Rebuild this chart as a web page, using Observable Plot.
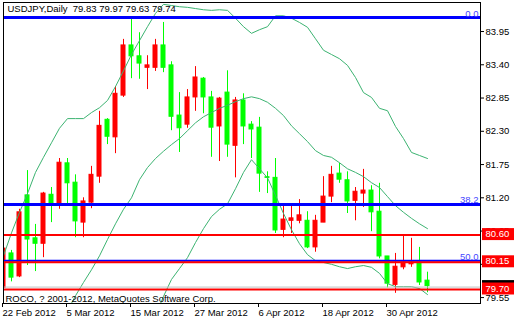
<!DOCTYPE html>
<html>
<head>
<meta charset="utf-8">
<script src="https://cdn.jsdelivr.net/npm/d3@7"></script>
<script src="https://cdn.jsdelivr.net/npm/@observablehq/plot@0.6"></script>
<style>
html, body { margin: 0; padding: 0; background: #ffffff; }
#chart svg { display: block; overflow: visible; }
</style>
</head>
<body>
<div id="chart"></div>
<script>
// ---- data ----
const symbol = "USDJPY,Daily";
const copyright = "ROCO, ? 2001-2012, MetaQuotes Software Corp.";

const dates = ["2012-02-22","2012-02-23","2012-02-24","2012-02-27","2012-02-28","2012-02-29","2012-03-01","2012-03-02","2012-03-05","2012-03-06","2012-03-07","2012-03-08","2012-03-09","2012-03-12","2012-03-13","2012-03-14","2012-03-15","2012-03-16","2012-03-19","2012-03-20","2012-03-21","2012-03-22","2012-03-23","2012-03-26","2012-03-27","2012-03-28","2012-03-29","2012-03-30","2012-04-02","2012-04-03","2012-04-04","2012-04-05","2012-04-06","2012-04-09","2012-04-10","2012-04-11","2012-04-12","2012-04-13","2012-04-16","2012-04-17","2012-04-18","2012-04-19","2012-04-20","2012-04-23","2012-04-24","2012-04-25","2012-04-26","2012-04-27","2012-04-30","2012-05-01","2012-05-02","2012-05-03","2012-05-04","2012-05-07"];

const open = [79.71,80.28,79.90,81.24,80.53,80.44,81.25,81.10,81.77,81.45,
  80.79,81.12,81.55,82.49,82.20,82.89,83.72,83.54,83.35,83.35,
  83.72,83.39,82.56,82.41,82.86,83.17,82.86,82.38,82.94,82.06,
  82.81,82.41,82.36,81.54,81.53,80.67,80.82,80.82,80.82,80.38,
  80.79,81.22,81.60,81.49,81.15,81.27,81.32,80.97,80.23,79.76,
  80.05,80.10,80.13,79.83];
const high = [80.38,80.33,81.01,81.65,80.76,81.29,81.37,81.85,81.85,81.58,
  81.20,81.72,82.63,82.51,83.04,83.82,84.18,83.93,83.55,83.82,
  84.10,83.45,82.94,82.99,83.37,83.19,82.96,82.86,83.30,82.86,
  82.92,82.46,82.53,81.63,81.85,81.09,81.07,81.17,80.97,80.91,
  81.55,81.72,81.77,81.63,81.37,81.67,81.40,81.44,80.23,80.28,
  80.56,80.53,80.38,79.97];
const low = [79.60,79.81,79.88,80.08,79.98,80.21,80.79,81.01,81.10,80.54,
  80.54,81.02,81.44,82.08,81.93,82.86,83.17,83.16,82.99,83.29,
  83.27,82.31,81.95,82.35,82.63,82.59,81.87,81.80,81.87,81.53,
  82.08,81.85,81.29,81.27,80.61,80.54,80.61,80.77,80.36,80.30,
  80.79,81.12,81.44,80.94,80.82,81.04,80.64,80.19,79.71,79.62,
  80.01,80.05,79.75,79.63];
const close = [80.36,79.88,80.96,80.51,80.44,81.27,81.10,81.78,81.44,80.81,
  81.14,81.58,82.39,82.21,82.92,83.72,83.54,83.42,83.39,83.72,
  83.35,82.54,82.35,82.86,83.19,82.86,82.36,82.84,82.08,82.81,
  82.38,82.33,81.60,81.53,80.66,80.84,80.86,80.91,80.38,80.82,
  81.22,81.58,81.50,81.14,81.30,81.32,80.96,80.23,79.78,80.06,
  80.13,80.13,79.80,79.74];

const bbUpper = [80.24,80.62,80.96,81.27,81.62,81.87,82.11,82.35,82.51,82.51,
  82.51,82.61,82.69,82.81,83.04,83.30,83.57,83.80,84.03,84.25,
  84.40,84.38,84.36,84.35,84.33,84.31,84.30,84.31,84.30,84.17,
  84.03,83.92,83.98,84.03,84.21,84.21,84.17,84.10,84.02,83.83,
  83.64,83.57,83.50,83.39,83.19,82.94,82.86,82.68,82.64,82.38,
  82.18,81.95,81.90,81.85];
const bbMiddle = [null,null,null,null,null,null,null,null,
  79.33,79.58,79.80,80.01,80.24,80.51,80.77,81.01,81.20,81.50,
  81.70,81.85,81.97,82.08,82.18,82.31,82.44,82.54,82.61,82.68,
  82.73,82.79,82.84,82.87,82.84,82.78,82.68,82.56,82.39,82.26,
  82.13,81.98,81.90,81.87,81.78,81.68,81.62,81.55,81.45,81.37,
  81.22,81.07,80.96,80.86,80.77,80.69];
const bbLower = [null,null,null,null,null,null,null,null,null,null,
  null,null,null,null,null,null,null,null,null,
  79.25,79.57,79.85,80.03,80.21,80.46,80.69,80.89,81.01,81.10,
  81.35,81.62,81.83,81.68,81.53,81.24,80.94,80.67,80.44,80.26,
  80.16,80.13,80.10,80.06,80.03,80.06,80.08,80.05,79.95,79.78,
  79.73,79.73,79.73,79.70,79.60];

const xTickIndex = [0, 8, 16, 24, 32, 40, 48];
const yTicks = [83.95, 83.40, 82.85, 82.30, 81.75, 81.20, 80.65, 80.10, 79.55];
const fibLevels = [84.18, 81.09, 80.16];
const fibLabels = ["0.0", "38.2", "50.0"];
const srLevels = [80.60, 80.15, 79.70];
const bidPrice = 79.74;

// ---- build ----
const bars = dates.map((d, i) => ({
  i, date: new Date(d),
  o: open[i], h: high[i], l: low[i], c: close[i],
  up: bbUpper[i], mid: bbMiddle[i], lo: bbLower[i]
}));
const UP = "#ff0000", DOWN = "#00ff00", BLUE = "#0000ff", BAND = "#3cb371";
const candleColor = d => d.c >= d.o ? UP : DOWN;
const fmtDate = d3.utcFormat("%-d %b %Y");
const fmtPrice = d3.format(".2f");
const last = bars[bars.length - 1];
const title = symbol + "\u00a0\u00a0" + [last.o, last.h, last.l, last.c].map(fmtPrice).join(" ");

const chart = Plot.plot({
  width: 520,
  height: 320,
  marginTop: 2,
  marginBottom: 17,
  marginLeft: 3,
  marginRight: 40,
  style: "font-family: 'Liberation Sans', Arial, sans-serif; font-size: 9.5px; color: #000; background: #fff; overflow: visible;",
  x: {domain: [0, 59.625], axis: null, label: null},
  y: {domain: [79.452, 84.43], axis: null, label: null},
  marks: [
    // candles
    Plot.ruleX(bars, {x: "i", y1: "l", y2: "h", stroke: candleColor, strokeWidth: 1, clip: true}),
    Plot.rect(bars, {
      x1: d => d.i - 0.25, x2: d => d.i + 0.25,
      y1: d => Math.min(d.o, d.c), y2: d => Math.max(d.o, d.c),
      fill: candleColor, stroke: candleColor, strokeWidth: 1, clip: true
    }),
    // Bollinger bands
    Plot.line(bars, {x: "i", y: "up", stroke: BAND, strokeWidth: 1, clip: true}),
    Plot.line(bars.filter(d => d.mid != null), {x: "i", y: "mid", stroke: BAND, strokeWidth: 1, clip: true}),
    Plot.line(bars.filter(d => d.lo != null), {x: "i", y: "lo", stroke: BAND, strokeWidth: 1, clip: true}),
    // bid line
    Plot.ruleY([bidPrice], {stroke: "#c0c0c0", strokeWidth: 1, dy: 1}),
    // fibonacci levels
    Plot.ruleY(fibLevels, {stroke: BLUE, strokeWidth: (d, i) => i < 2 ? 3 : 2}),
    Plot.text(fibLevels, {y: d => d, text: (d, i) => fibLabels[i], frameAnchor: "right", textAnchor: "end", lineAnchor: "bottom", dx: -2, dy: -1, fill: "#4646ff"}),
    // support / resistance lines
    Plot.ruleY(srLevels, {stroke: UP, strokeWidth: 2, dy: 1}),
    // texts
    Plot.text([title], {frameAnchor: "top-left", textAnchor: "start", lineAnchor: "top", dx: 4, dy: 3, fill: "#000"}),
    Plot.text([copyright], {frameAnchor: "bottom-left", textAnchor: "start", lineAnchor: "bottom", dx: 2, dy: -2, fill: "#000"}),
    // frame and axes
    Plot.frame({stroke: "#000"}),
    Plot.axisY(yTicks, {anchor: "right", label: null, tickSize: 3, tickPadding: 2, tickFormat: fmtPrice, stroke: "#000", fill: "#000"}),
    Plot.axisX(xTickIndex, {anchor: "bottom", label: null, tickSize: 4, tickPadding: 1.5, textAnchor: "start", dx: -1, tickFormat: i => fmtDate(bars[i].date), stroke: "#000", fill: "#000"}),
    // price labels on the axis
    Plot.ruleY([bidPrice], {stroke: "#000", strokeWidth: 12, insetLeft: 479, insetRight: -34}),
    Plot.ruleY(srLevels, {stroke: UP, strokeWidth: 12, insetLeft: 479, insetRight: -34}),
    Plot.text(srLevels, {y: d => d, text: fmtPrice, frameAnchor: "right", textAnchor: "start", dx: 5, fill: "#fff"})
  ]
});
document.getElementById("chart").appendChild(chart);
</script>
</body>
</html>
